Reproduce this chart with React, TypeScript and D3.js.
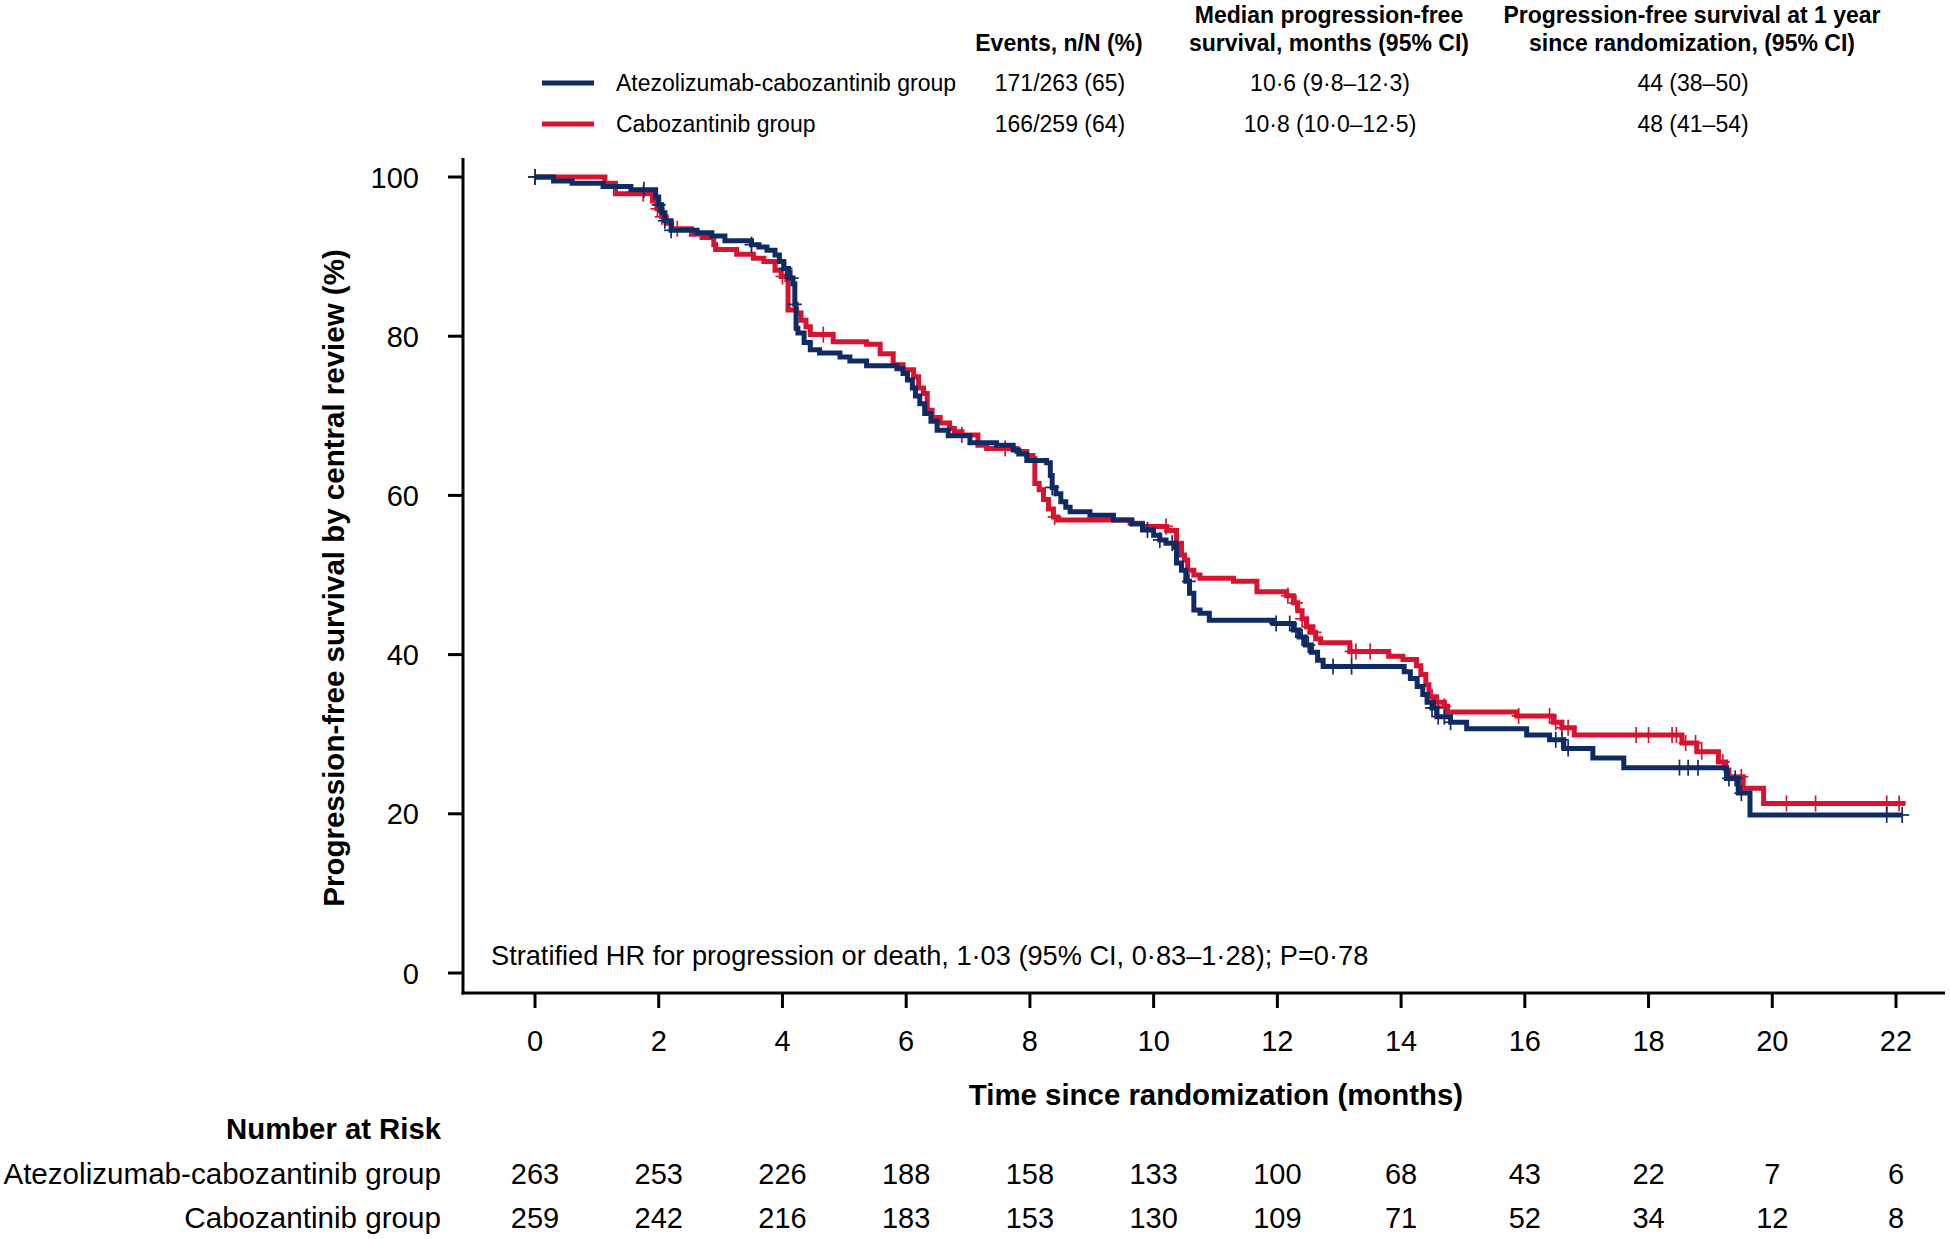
import React from "react";
import * as d3 from "d3";

const FONT = "'Liberation Sans', Arial, Helvetica, sans-serif";
const BLUE = "#0e2c63";
const RED = "#d7132f";

const xTicks = [0, 2, 4, 6, 8, 10, 12, 14, 16, 18, 20, 22];
const yTicks = [0, 20, 40, 60, 80, 100];

const groups = ["Atezolizumab-cabozantinib group", "Cabozantinib group"];
const events = ["171/263 (65)", "166/259 (64)"];
const medians = ["10·6 (9·8–12·3)", "10·8 (10·0–12·5)"];
const oneYear = ["44 (38–50)", "48 (41–54)"];

const riskAtezo = [263, 253, 226, 188, 158, 133, 100, 68, 43, 22, 7, 6];
const riskCabo = [259, 242, 216, 183, 153, 130, 109, 71, 52, 34, 12, 8];

// [time (months), survival (%) from that time on]
const atezoSteps: [number, number][] = [
  [0, 100], [0.3, 99.5], [0.6, 99.2], [1.1, 98.8], [1.55, 98.4], [1.95, 97.5], [2.0, 96.5], [2.05, 95.5],
  [2.1, 94.5], [2.2, 93.3], [2.62, 93.0], [2.86, 92.6], [3.07, 92.0], [3.5, 91.5], [3.62, 91.2], [3.75, 90.8],
  [3.88, 90.2], [3.95, 89.4], [4.02, 88.5], [4.1, 87.3], [4.17, 86.6], [4.2, 84.0], [4.22, 81.0], [4.25, 80.4],
  [4.35, 79.2], [4.45, 78.3], [4.6, 77.9], [4.93, 77.4], [5.09, 76.9], [5.36, 76.3], [5.85, 75.9], [5.95, 75.3],
  [6.02, 74.5], [6.1, 73.5], [6.15, 72.5], [6.22, 71.5], [6.3, 70.3], [6.4, 69.3], [6.5, 68.2], [6.68, 67.5],
  [7.03, 66.6], [7.46, 66.3], [7.73, 65.7], [7.82, 65.2], [7.95, 64.4], [8.27, 64.1], [8.33, 62.5], [8.36, 61.0],
  [8.42, 60.2], [8.5, 59.2], [8.58, 58.5], [8.65, 57.95], [8.97, 57.5], [9.35, 56.9], [9.65, 56.4], [9.82, 55.65],
  [10.0, 55.0], [10.1, 54.4], [10.2, 54.0], [10.35, 53.5], [10.37, 51.5], [10.45, 50.6], [10.52, 49.2], [10.58, 47.7],
  [10.65, 45.6], [10.75, 45.2], [10.9, 44.3], [11.93, 43.9], [12.26, 43.1], [12.35, 42.2], [12.45, 41.2], [12.55, 40.3],
  [12.65, 39.3], [12.74, 38.5], [14.05, 37.85], [14.15, 37.0], [14.26, 36.0], [14.35, 35.0], [14.42, 34.0], [14.5, 33.3],
  [14.58, 32.2], [14.8, 31.5], [15.06, 30.7], [16.03, 29.9], [16.4, 29.3], [16.63, 28.2], [17.1, 27.0], [17.6, 25.8],
  [19.26, 24.45], [19.45, 22.6], [19.64, 19.85], [22.1, 19.85],
];

const caboSteps: [number, number][] = [
  [0, 100], [1.13, 99.2], [1.3, 97.9], [1.9, 97.0], [1.97, 96.0], [2.05, 95.0], [2.12, 94.2], [2.21, 93.5],
  [2.53, 92.8], [2.7, 92.4], [2.89, 91.5], [2.92, 90.9], [3.26, 90.3], [3.53, 89.8], [3.7, 89.4], [3.88, 88.3],
  [3.98, 87.5], [4.07, 87.1], [4.09, 83.3], [4.23, 82.9], [4.3, 82.0], [4.38, 81.2], [4.45, 80.2], [4.82, 79.3],
  [5.36, 79.0], [5.58, 77.8], [5.79, 76.4], [5.95, 75.8], [6.12, 74.9], [6.2, 73.5], [6.28, 72.8], [6.34, 70.7],
  [6.42, 69.8], [6.55, 69.1], [6.7, 68.4], [6.78, 68.0], [6.9, 67.6], [7.16, 66.3], [7.3, 65.9], [7.79, 65.5],
  [7.95, 65.0], [8.05, 64.6], [8.08, 61.5], [8.15, 60.7], [8.22, 59.5], [8.3, 58.3], [8.38, 57.3], [8.45, 56.9],
  [9.62, 56.5], [9.82, 56.1], [10.21, 55.6], [10.37, 54.0], [10.45, 52.5], [10.5, 51.9], [10.55, 50.6], [10.65, 50.0],
  [10.75, 49.6], [11.29, 49.2], [11.67, 47.9], [12.15, 47.4], [12.26, 46.5], [12.33, 45.5], [12.4, 44.5], [12.47, 43.5],
  [12.55, 42.8], [12.62, 42.0], [12.7, 41.5], [13.17, 40.4], [13.8, 39.8], [14.03, 39.4], [14.25, 38.6], [14.32, 37.5],
  [14.4, 36.2], [14.45, 34.7], [14.55, 34.0], [14.7, 33.5], [14.75, 32.8], [15.87, 32.3], [16.46, 31.5], [16.6, 30.8],
  [16.8, 29.9], [18.54, 28.9], [18.78, 27.8], [19.13, 26.5], [19.25, 25.5], [19.3, 24.65], [19.53, 23.2], [19.86, 21.3],
  [22.15, 21.3],
];

const atezoCensor = [0, 1.76, 2.0, 2.1, 2.2, 3.5, 4.05, 4.15, 4.2, 8.36, 9.9, 10.1, 10.3, 10.57, 11.98, 12.2, 12.3,
  12.4, 12.5, 12.9, 13.2, 14.5, 14.55, 14.6, 14.7, 14.8, 16.5, 16.6, 16.7, 18.5, 18.64, 18.8, 19.3, 19.4, 19.5, 21.85, 22.1];
const caboCensor = [0, 1.75, 1.98, 2.05, 2.3, 4.0, 4.66, 6.9, 7.6, 8.4, 10.2, 12.17, 12.3, 12.4, 12.5, 12.6, 13.2,
  13.27, 13.5, 14.5, 14.6, 14.7, 15.9, 16.4, 16.5, 16.6, 16.7, 17.8, 18.0, 18.38, 18.45, 18.6, 18.76, 18.86, 19.2, 19.5,
  20.23, 20.7, 21.85, 22.05];

const x = d3.scaleLinear().domain([0, 22]).range([535, 1896]);
const y = d3.scaleLinear().domain([0, 100]).range([973, 177]);

const line = d3
  .line<[number, number]>()
  .x((d) => x(d[0]))
  .y((d) => y(d[1]))
  .curve(d3.curveStepAfter);

function survAt(steps: [number, number][], t: number) {
  let s = steps[0][1];
  for (const [tt, v] of steps) {
    if (tt <= t + 1e-9) s = v;
    else break;
  }
  return s;
}

function Curve({ steps, censor, color }: { steps: [number, number][]; censor: number[]; color: string }) {
  return (
    <g>
      <path d={line(steps) || ""} fill="none" stroke={color} strokeWidth={5} strokeLinejoin="miter" strokeLinecap="butt" />
      {censor.map((t, i) => {
        const cx = x(t);
        const cy = y(survAt(steps, t));
        return (
          <g key={i} stroke={color} strokeWidth={1.7}>
            <line x1={cx} x2={cx} y1={cy - 8} y2={cy + 8} />
            <line x1={cx - 7} x2={cx + 7} y1={cy} y2={cy} />
          </g>
        );
      })}
    </g>
  );
}

export default function App() {
  const colors = [BLUE, RED];
  const legendY = [83, 124];
  return (
    <svg
      width={1950}
      height={1239}
      style={{ position: "absolute", left: 0, top: 0, background: "#fff" }}
      fontFamily={FONT}
    >
      <rect x={0} y={0} width={1950} height={1239} fill="#fff" />
      {/* Legend table header */}
      <g fontWeight="bold" fontSize={23} textAnchor="middle" fill="#000">
        <text x={1059} y={51}>Events, n/N (%)</text>
        <text x={1329} y={23}>Median progression-free</text>
        <text x={1329} y={51}>survival, months (95% CI)</text>
        <text x={1692} y={23}>Progression-free survival at 1 year</text>
        <text x={1692} y={51}>since randomization, (95% CI)</text>
      </g>
      {groups.map((g, i) => (
        <g key={g} fontSize={23} fill="#000">
          <line x1={542} x2={594} y1={legendY[i]} y2={legendY[i]} stroke={colors[i]} strokeWidth={5} />
          <text x={616} y={legendY[i] + 8}>{g}</text>
          <text x={1060} y={legendY[i] + 8} textAnchor="middle">{events[i]}</text>
          <text x={1330} y={legendY[i] + 8} textAnchor="middle">{medians[i]}</text>
          <text x={1693} y={legendY[i] + 8} textAnchor="middle">{oneYear[i]}</text>
        </g>
      ))}

      {/* Axes */}
      <line x1={463} x2={463} y1={158} y2={994.5} stroke="#000" strokeWidth={3} />
      <line x1={461.5} x2={1945} y1={993} y2={993} stroke="#000" strokeWidth={3} />
      {yTicks.map((v) => (
        <g key={v}>
          <line x1={448} x2={463} y1={y(v)} y2={y(v)} stroke="#000" strokeWidth={3} />
          <text x={419} y={y(v) + 10.5} fontSize={29} textAnchor="end" fill="#000">{v}</text>
        </g>
      ))}
      {xTicks.map((v) => (
        <g key={v}>
          <line x1={x(v)} x2={x(v)} y1={993} y2={1008} stroke="#000" strokeWidth={3} />
          <text x={x(v)} y={1050.5} fontSize={29} textAnchor="middle" fill="#000">{v}</text>
        </g>
      ))}
      <text
        transform={`translate(344,578) rotate(-90)`}
        fontSize={29.5}
        fontWeight="bold"
        textAnchor="middle"
        fill="#000"
      >
        Progression-free survival by central review (%)
      </text>
      <text x={1216} y={1104.5} fontSize={29.4} fontWeight="bold" textAnchor="middle" fill="#000">
        Time since randomization (months)
      </text>

      <text x={491} y={964.5} fontSize={27.2} fill="#000">
        Stratified HR for progression or death, 1·03 (95% CI, 0·83–1·28); P=0·78
      </text>

      {/* Curves */}
      <Curve steps={caboSteps} censor={caboCensor} color={RED} />
      <Curve steps={atezoSteps} censor={atezoCensor} color={BLUE} />

      {/* Number at risk */}
      <text x={441} y={1139} fontSize={29.3} fontWeight="bold" textAnchor="end" fill="#000">Number at Risk</text>
      <text x={441} y={1184} fontSize={29.6} textAnchor="end" fill="#000">{groups[0]}</text>
      <text x={441} y={1228} fontSize={29.6} textAnchor="end" fill="#000">{groups[1]}</text>
      {riskAtezo.map((n, i) => (
        <text key={"a" + i} x={x(xTicks[i])} y={1184} fontSize={29} textAnchor="middle" fill="#000">{n}</text>
      ))}
      {riskCabo.map((n, i) => (
        <text key={"c" + i} x={x(xTicks[i])} y={1228} fontSize={29} textAnchor="middle" fill="#000">{n}</text>
      ))}
    </svg>
  );
}
